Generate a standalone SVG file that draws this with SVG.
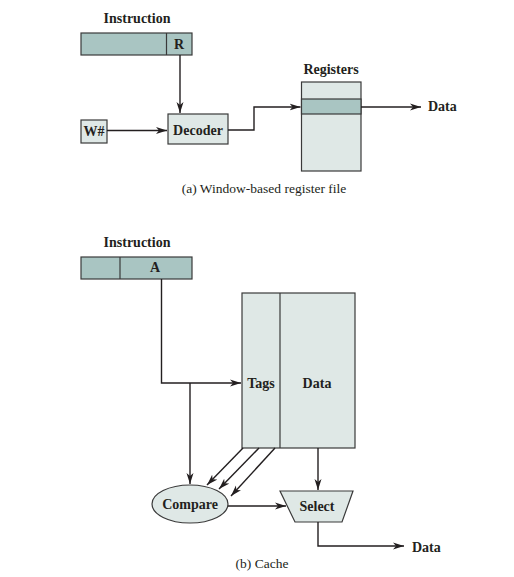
<svg xmlns="http://www.w3.org/2000/svg" width="514" height="577" viewBox="0 0 514 577">
<defs>
<marker id="ah" markerWidth="12" markerHeight="8" refX="11" refY="4" orient="auto" markerUnits="userSpaceOnUse">
<path d="M0,0.5 L11,4 L0,7.5 L3,4 Z" fill="#231f20"/>
</marker>
</defs>
<style>
.lbl{font-family:"Liberation Serif","Times New Roman",serif;font-weight:bold;font-size:14px;fill:#231f20}
.cap{font-family:"Liberation Serif","Times New Roman",serif;font-size:13.5px;fill:#231f20}
.dark{fill:#a9c5c2;stroke:#3a3a3a;stroke-width:1.2}
.light{fill:#dfe8e6;stroke:#3a3a3a;stroke-width:1.2}
.ln{fill:none;stroke:#231f20;stroke-width:1.4}
.arr{fill:none;stroke:#231f20;stroke-width:1.4;marker-end:url(#ah)}
</style>
<rect width="514" height="577" fill="#ffffff"/>

<!-- (a) -->
<g id="instructionA">
<text class="lbl" x="137" y="23" text-anchor="middle">Instruction</text>
<rect class="dark" x="81" y="33" width="111" height="22"/>
<line x1="166.5" y1="33" x2="166.5" y2="55" style="stroke:#3a3a3a;stroke-width:1.2"/>
<text class="lbl" x="179" y="49" text-anchor="middle">R</text>
</g>
<g id="wnum">
<rect class="light" x="81" y="120" width="26" height="23"/>
<text class="lbl" x="94" y="136" text-anchor="middle">W#</text>
</g>
<g id="decoder">
<rect class="light" x="168" y="114" width="60" height="30"/>
<text class="lbl" x="198" y="135" text-anchor="middle">Decoder</text>
</g>
<g id="registers">
<text class="lbl" x="331" y="74" text-anchor="middle">Registers</text>
<rect class="light" x="301.5" y="82" width="59.5" height="89"/>
<rect class="dark" x="301.5" y="99" width="59.5" height="15"/>
</g>
<g id="dataA">
<text class="lbl" x="428" y="111">Data</text>
</g>
<text class="cap" x="264" y="193" text-anchor="middle">(a) Window-based register file</text>

<!-- (b) -->
<g id="instructionB">
<text class="lbl" x="137" y="247" text-anchor="middle">Instruction</text>
<rect class="dark" x="81" y="257" width="111" height="22"/>
<line x1="120" y1="257" x2="120" y2="279" style="stroke:#3a3a3a;stroke-width:1.2"/>
<text class="lbl" x="155" y="272" text-anchor="middle">A</text>
</g>
<g id="cache">
<rect class="light" x="242" y="293" width="113" height="155"/>
<line x1="280" y1="293" x2="280" y2="448" style="stroke:#3a3a3a;stroke-width:1.2"/>
<text class="lbl" x="261" y="388" text-anchor="middle">Tags</text>
<text class="lbl" x="317" y="388" text-anchor="middle">Data</text>
</g>
<g id="compare">
<ellipse class="light" cx="190" cy="504" rx="38" ry="19"/>
<text class="lbl" x="190" y="509" text-anchor="middle">Compare</text>
</g>
<g id="select">
<polygon class="light" points="280,491 353,491 342,522 295,522"/>
<text class="lbl" x="317" y="511" text-anchor="middle">Select</text>
</g>
<g id="dataB">
<text class="lbl" x="412" y="552">Data</text>
</g>
<text class="cap" x="262" y="568" text-anchor="middle">(b) Cache</text>

<g id="connectors">
<path class="arr" d="M180,55 V113"/>
<path class="arr" d="M107,130.5 H167"/>
<path class="arr" d="M228,130 H254 V107 H300.5"/>
<path class="arr" d="M361,107 H421"/>
<path class="arr" d="M161.5,279 V383 H241"/>
<path class="arr" d="M190,383 V484"/>
<path class="arr" d="M243,448 L207,485"/>
<path class="arr" d="M259,448 L219,489"/>
<path class="arr" d="M275,448 L231,496"/>
<path class="arr" d="M318,448 V490"/>
<path class="arr" d="M228,506 H286"/>
<path class="arr" d="M318,522 V546 H404"/>
</g>
</svg>
